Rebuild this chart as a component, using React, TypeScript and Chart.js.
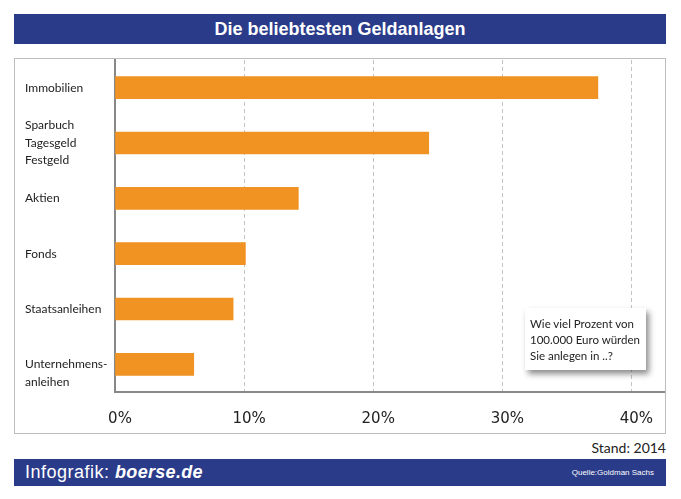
import React, { useEffect, useRef } from "react";
import { Chart, registerables } from "chart.js";

Chart.register(...registerables);

const categories: string[][] = [
  ["Immobilien"],
  ["Sparbuch", "Tagesgeld", "Festgeld"],
  ["Aktien"],
  ["Fonds"],
  ["Staatsanleihen"],
  ["", "Unternehmens-", "anleihen"],
];
const values: number[] = [37.4, 24.3, 14.2, 10.1, 9.15, 6.1];
const tickStep = 10;
const axisMax = 42.6;
const titleText = "Die beliebtesten Geldanlagen";
const noteLines = ["Wie viel Prozent von", "100.000 Euro würden", "Sie anlegen in ..?"];
const standText = "Stand: 2014";
const sourceText = "Quelle:Goldman Sachs";

const BLUE = "#2a3b8a";
const ORANGE = "#f09322";

export default function App() {
  const ref = useRef<HTMLCanvasElement | null>(null);

  useEffect(() => {
    if (!ref.current) return;
    const chart = new Chart(ref.current, {
      type: "bar",
      data: {
        labels: categories,
        datasets: [
          {
            data: values,
            backgroundColor: ORANGE,
            borderWidth: 0,
            barThickness: 22,
          },
        ],
      },
      options: {
        indexAxis: "y",
        responsive: false,
        animation: false,
        layout: { padding: { left: 10, top: 1, right: 0, bottom: 0 } },
        plugins: { legend: { display: false }, tooltip: { enabled: false } },
        scales: {
          x: {
            min: 0,
            max: axisMax,
            afterFit: (s: any) => {
              s.height = 41;
              s.paddingLeft = 0;
              s.paddingRight = 0;
            },
            ticks: {
              stepSize: tickStep,
              includeBounds: false,
              callback: (v: any) => v + "%",
              font: { family: "DejaVu Sans", size: 15 },
              color: "#222",
              labelOffset: 5,
              padding: 18,
            },
            grid: {
              color: "#c4c4c4",
              lineWidth: 1,
              drawTicks: false,
            },
            border: { display: true, color: "#888", width: 2, dash: [4, 3] },
          },
          y: {
            afterFit: (s: any) => {
              s.width = 90;
              s.paddingTop = 0;
              s.paddingBottom = 0;
            },
            ticks: {
              autoSkip: false,
              crossAlign: "far",
              font: { family: "Lato", size: 12, lineHeight: 1.45 },
              color: "#222",
              padding: 0,
            },
            grid: { display: false, drawTicks: false },
            border: { display: true, color: "#888", width: 2 },
          },
        },
      } as any,
    });
    return () => chart.destroy();
  }, []);

  return (
    <div
      style={{
        position: "fixed",
        left: 0,
        top: 0,
        width: 681,
        height: 499,
        background: "#fff",
        fontFamily: "Liberation Sans, Arial, sans-serif",
      }}
    >
      <div
        style={{
          position: "absolute",
          left: 14,
          top: 14,
          width: 652,
          height: 30,
          background: BLUE,
          color: "#fff",
          fontWeight: "bold",
          fontSize: 18,
          lineHeight: "30px",
          textAlign: "center",
        }}
      >
        {titleText}
      </div>
      <div
        style={{
          position: "absolute",
          left: 14,
          top: 58,
          width: 652,
          height: 376,
          border: "1px solid #bdbdbd",
          boxSizing: "border-box",
        }}
      >
        <canvas ref={ref} width={650} height={374} style={{ display: "block" }} />
      </div>
      <div
        style={{
          position: "absolute",
          left: 525,
          top: 308,
          width: 121,
          height: 62,
          background: "#fff",
          boxShadow: "3px 4px 6px rgba(0,0,0,0.45)",
          boxSizing: "border-box",
          padding: "8px 0 0 5px",
          fontFamily: "Lato",
          fontSize: 11.5,
          lineHeight: "16px",
          color: "#222",
        }}
      >
        {noteLines.map((l, i) => (
          <div key={i}>{l}</div>
        ))}
      </div>
      <div
        style={{
          position: "absolute",
          right: 15,
          top: 439,
          fontFamily: "Lato",
          fontSize: 14,
          lineHeight: "18px",
          color: "#222",
        }}
      >
        {standText}
      </div>
      <div
        style={{
          position: "absolute",
          left: 14,
          top: 459,
          width: 652,
          height: 27,
          background: BLUE,
          color: "#fff",
        }}
      >
        <div
          style={{
            position: "absolute",
            left: 11,
            top: 3,
            fontSize: 18,
            lineHeight: "20px",
            letterSpacing: "0.5px",
          }}
        >
          Infografik:{" "}
          <span style={{ fontWeight: "bold", fontStyle: "italic", letterSpacing: "0.3px" }}>
            boerse.de
          </span>
        </div>
        <div style={{ position: "absolute", right: 12, top: 9, fontSize: 8, lineHeight: "10px" }}>
          {sourceText}
        </div>
      </div>
    </div>
  );
}
